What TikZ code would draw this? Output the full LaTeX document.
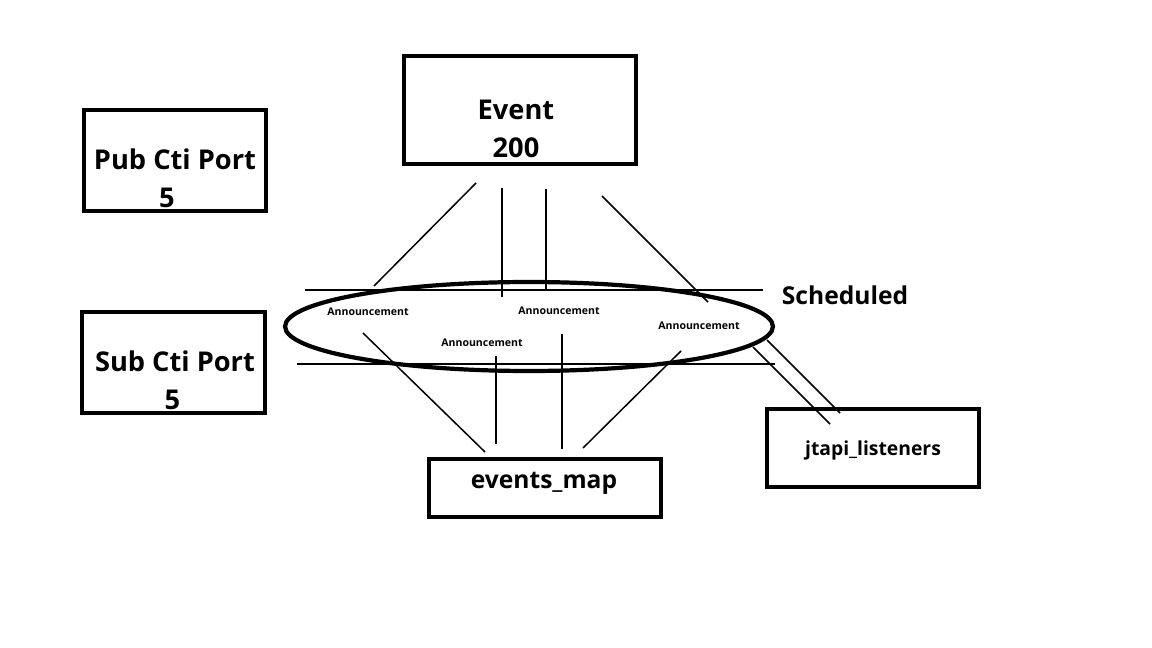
\documentclass[tikz,border=0pt]{standalone}
\usepackage{fontspec}
\setmainfont{Open Sans}
\usepackage{tikz}
\usetikzlibrary{shapes.geometric}
\tikzset{
  box/.style={draw=black, line width=2.6pt, rectangle, inner sep=0pt},
  big/.style={font=\bfseries\fontsize{15.5}{21.5}\selectfont, align=center, inner sep=0pt},
  mid/.style={font=\bfseries\fontsize{14}{18}\selectfont, inner sep=0pt},
  small/.style={font=\bfseries\fontsize{11}{13}\selectfont, inner sep=0pt},
  ann/.style={font=\bfseries\fontsize{6}{7}\selectfont, inner sep=0pt},
  wire/.style={draw=black, line width=0.85pt},
}

\begin{document}
\begin{tikzpicture}[x=0.02cm, y=-0.02cm]
  \useasboundingbox (0,0) rectangle (1152,648);
  % boxes
  \node[box, minimum width=3.64cm, minimum height=2.02cm] (pub) at (175,160.5) {};
  \node[big] (pubtxt) at (175,178) {Pub Cti Port\\\hspace*{-0.32cm}5};
  \node[box, minimum width=3.66cm, minimum height=2.02cm] (sub) at (173.5,362.5) {};
  \node[big] (subtxt) at (175,380) {Sub Cti Port\\\hspace*{-0.1cm}5};
  \node[box, minimum width=4.64cm, minimum height=2.16cm] (event) at (520,110) {};
  \node[big] (eventtxt) at (516,129) {Event\\200};
  \node[box, minimum width=4.64cm, minimum height=1.16cm] (map) at (545,488) {};
  \node[mid] (maptxt) at (544,483) {events\_map};
  \node[box, minimum width=4.24cm, minimum height=1.56cm] (jtapi) at (873,448) {};
  \node[small] (jtapitxt) at (873,450) {jtapi\_listeners};
  % scheduled ellipse
  \node[ellipse, draw=black, line width=2.4pt, minimum width=9.76cm, minimum height=1.78cm, inner sep=0pt] (sched) at (529,326.5) {};
  \node[mid] (schedtxt) at (845,295) {Scheduled};
  \node[ann] (ann1) at (368,312) {Announcement};
  \node[ann] (ann2) at (559,311) {Announcement};
  \node[ann] (ann3) at (699,326) {Announcement};
  \node[ann] (ann4) at (482,343) {Announcement};
  % end points of the wires
  \coordinate (hl1) at (305,290); \coordinate (hr1) at (763,290);
  \coordinate (hl2) at (297,364); \coordinate (hr2) at (775,364);
  \coordinate (t1) at (476,183); \coordinate (u1) at (374,286);
  \coordinate (t2) at (502,188); \coordinate (u2) at (502,297);
  \coordinate (t3) at (546,189); \coordinate (u3) at (546,290);
  \coordinate (t4) at (602,196); \coordinate (u4) at (708,302);
  \coordinate (d1) at (363,333); \coordinate (b1) at (485,452);
  \coordinate (d2) at (496,356); \coordinate (b2) at (496,444);
  \coordinate (d3) at (562,334); \coordinate (b3) at (562,449);
  \coordinate (d4) at (681,351); \coordinate (b4) at (583,448);
  \coordinate (j1) at (753,347); \coordinate (k1) at (830,424);
  \coordinate (j2) at (767,340); \coordinate (k2) at (840,413);
  \foreach \a/\b in {hl1/hr1, hl2/hr2, t1/u1, t2/u2, t3/u3, t4/u4,
                     d1/b1, d2/b2, d3/b3, d4/b4, j1/k1, j2/k2}
    \draw[wire] (\a) -- (\b);
\end{tikzpicture}
\end{document}
